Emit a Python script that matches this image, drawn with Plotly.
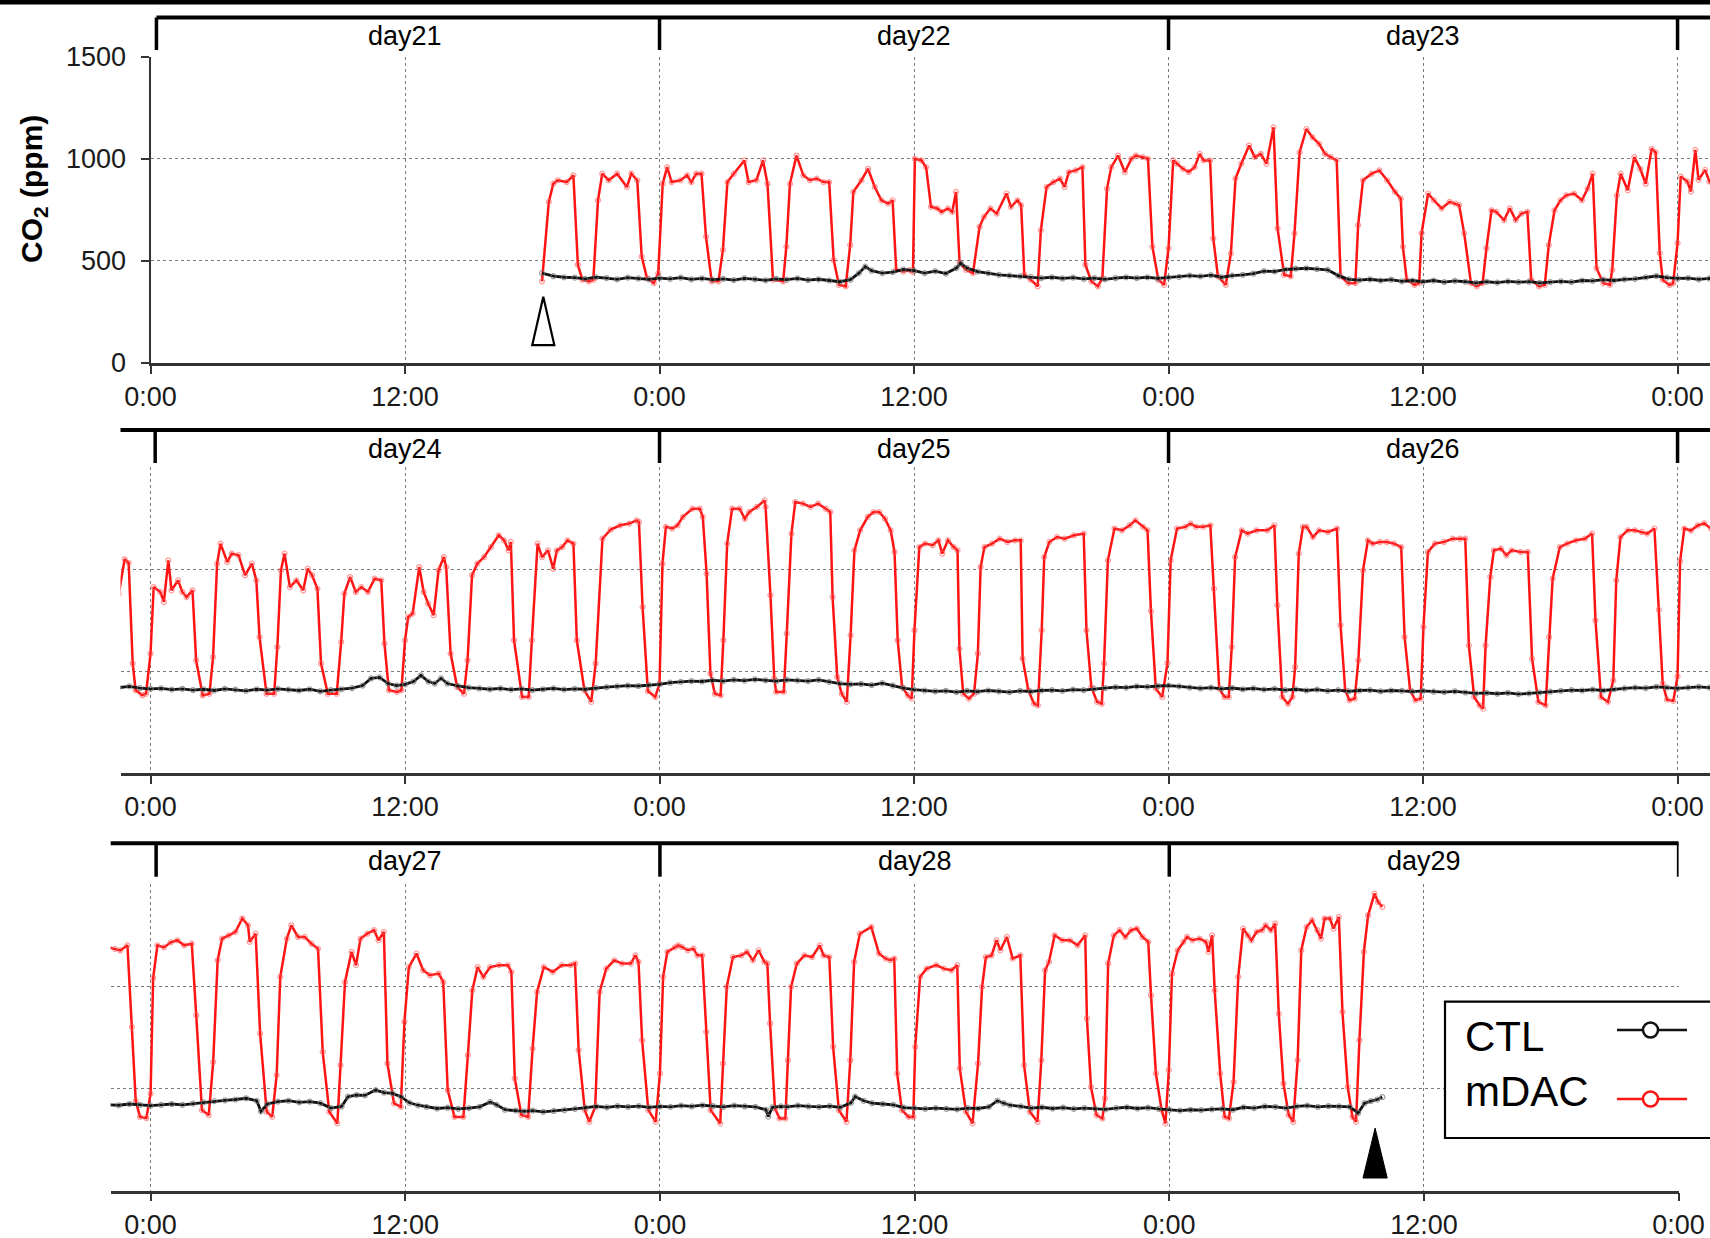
import plotly.graph_objects as go

W, H = 1710, 1238

# ---------------- data (hours counted from day21 0:00, CO2 in ppm) ----------------
mdac_hours = [
    18.46, 18.78, 18.99, 19.2, 19.62, 19.94, 20.15, 20.36, 20.67, 20.88, 21.1, 21.3, 21.6, 22.0, 22.46, 22.67,
    22.95, 23.16, 23.41, 23.73, 23.94, 24.15, 24.36, 24.57, 24.99, 25.3, 25.5, 25.73, 25.98, 26.19, 26.46, 26.78,
    26.99, 27.2, 27.5, 28.0, 28.2, 28.57, 28.88, 29.09, 29.35, 29.83, 29.98, 30.15, 30.46, 30.78, 31.09, 31.41,
    31.73, 32.0, 32.21, 32.46, 32.78, 32.99, 33.14, 33.52, 33.83, 34.15, 34.46, 34.78, 34.99, 35.16, 35.5, 35.8,
    35.95, 36.04, 36.35, 36.57, 36.8, 37.1, 37.3, 37.6, 37.8, 37.98, 38.15, 38.46, 38.78, 39.09, 39.3, 39.6,
    39.9, 40.36, 40.57, 40.88, 41.05, 41.2, 41.5, 41.83, 41.98, 42.25, 42.57, 42.88, 43.1, 43.3, 43.62, 43.94,
    44.08, 44.36, 44.67, 44.88, 45.1, 45.3, 45.62, 45.94, 46.25, 46.46, 46.78, 47.03, 47.24, 47.52, 47.79, 48.0,
    48.22, 48.4, 48.68, 48.95, 49.23, 49.47, 49.65, 49.96, 50.11, 50.33, 50.7, 50.94, 51.16, 51.43, 51.8, 52.07,
    52.35, 52.62, 52.95, 53.14, 53.45, 53.76, 53.94, 54.18, 54.5, 54.79, 55.1, 55.38, 55.65, 55.93, 56.11, 56.48,
    56.81, 56.94, 57.17, 57.58, 57.94, 58.31, 58.68, 58.95, 59.05, 59.23, 59.6, 59.82, 59.93, 60.24, 60.51, 60.88,
    61.25, 61.52, 61.7, 61.94, 62.26, 62.53, 62.81, 62.99, 63.23, 63.45, 63.82, 64.09, 64.37, 64.64, 64.92, 65.1,
    65.47, 65.74, 65.93, 66.2, 66.48, 66.75, 67.12, 67.49, 67.76, 68.0, 68.18, 68.5, 68.81, 68.92, 69.14, 69.32,
    69.65, 69.96, 70.24, 70.5, 70.78, 70.97, 71.16, 71.3, 71.62, 71.79, 72.0, 72.15, 72.46, 72.63, 72.84, 72.99,
    73.3, 73.5, 73.7, 73.98, 74.15, 74.46, 74.78, 74.95, 75.14, 75.3, 75.62, 75.83, 76.15, 76.46, 76.78, 76.99,
    77.14, 77.47, 77.83, 77.98, 78.15, 78.32, 78.57, 78.88, 79.2, 79.41, 79.62, 79.87, 80.04, 80.36, 80.78, 80.99,
    81.14, 81.41, 81.68, 81.94, 82.25, 82.57, 82.88, 83.03, 83.24, 83.62, 83.83, 84.0, 84.15, 84.36, 84.67, 84.88,
    85.09, 85.35, 85.58, 85.83, 85.94, 86.15, 86.46, 86.78, 86.95, 87.16, 87.41, 87.73, 88.05, 88.42, 88.67, 88.88,
    88.99, 89.14, 89.52, 89.83, 89.98, 90.25, 90.46, 90.74, 90.99, 91.16, 91.41, 91.66, 91.94, 92.1, 92.46, 92.78,
    92.99, 93.31, 93.7, 94.15, 94.57, 94.92, 95.03, 95.2, 95.45, 95.8, 96.0, 96.14, 96.3, 96.6, 96.85, 97.1,
    97.55, 97.9, 98.04, 98.22, 98.4, 98.61, 98.88, 99.01, 99.19, 99.42, 99.78, 100.02, 100.23, 100.59, 100.95, 101.0,
    101.23, 101.41, 101.5, 101.86, 102.0, 102.22, 102.4, 102.76, 103.12, 103.48, 103.84, 104.05, 104.16, 104.38, 104.59, 104.83,
    105.01, 105.19, 105.46, 105.82, 106.09, 106.36, 106.63, 106.9, 107.08, 107.23, 107.44, 107.71, 107.89, 108.02, 108.25, 108.52,
    108.88, 109.15, 109.33, 109.6, 109.87, 110.05, 110.14, 110.32, 110.59, 110.83, 111.01, 111.14, 111.32, 111.68, 112.04, 112.4,
    112.76, 113.03, 113.12, 113.39, 113.66, 113.84, 114.02, 114.14, 114.38, 114.74, 115.1, 115.55, 116.0, 116.13, 116.36, 116.63,
    116.85, 116.96, 117.14, 117.45, 117.81, 118.17, 118.44, 118.8, 119.01, 119.17, 119.4, 119.7, 119.95, 120.1, 120.4, 120.79,
    121.04, 121.3, 121.63, 121.97, 122.14, 122.39, 122.64, 122.84, 122.98, 123.14, 123.45, 123.73, 124.15, 124.66, 124.99, 125.13,
    125.36, 125.63, 125.84, 125.97, 126.14, 126.34, 126.51, 126.81, 127.1, 127.52, 127.94, 128.11, 128.33, 128.53, 128.78, 128.95,
    129.17, 129.4, 129.62, 129.96, 130.29, 130.63, 130.97, 131.13, 131.39, 131.64, 131.89, 132.02, 132.23, 132.56, 132.98, 133.4,
    133.74, 133.99, 134.16, 134.41, 134.67, 134.83, 134.95, 135.17, 135.34, 135.67, 135.93, 136.18, 136.6, 136.94, 137.14, 137.44,
    137.78, 137.94, 138.11, 138.45, 138.79, 139.21, 139.63, 139.97, 140.13, 140.39, 140.72, 140.97, 141.11, 141.31, 141.65, 141.98,
    142.32, 142.57, 142.91, 143.12, 143.3, 143.5, 143.8, 144.0, 144.12, 144.32, 144.63, 144.95, 145.26, 145.58, 145.94, 146.15,
    146.42, 146.74, 146.95, 147.16, 147.37, 147.68, 148.0, 148.32, 148.59, 148.67, 148.95, 149.16, 149.47, 149.73, 149.94, 150.11,
    150.42, 150.63, 150.95, 151.26, 151.58, 151.89, 152.11, 152.42, 152.8, 152.95, 153.16, 153.47, 153.68, 153.89, 154.21, 154.53,
    154.74, 154.99, 155.16, 155.47, 155.79, 155.96, 156.17, 156.53, 156.84, 157.16, 157.58, 157.79, 158.0, 158.32, 158.74, 158.95,
    159.16, 159.41, 159.68, 160.0, 160.42, 160.84, 161.0, 161.16, 161.47, 161.79, 162.0, 162.21, 162.53, 162.95, 163.37, 163.79,
    164.0, 164.17, 164.46, 164.67, 164.95, 165.16, 165.47, 165.85, 166.21, 166.63, 166.84, 166.99, 167.16, 167.45, 167.8, 168.0,
    168.15, 168.35, 168.7, 168.86, 169.04, 169.31, 169.58, 169.76, 169.99, 170.18, 170.39, 170.84, 170.97, 171.15, 171.44, 171.84,
    172.1, 172.38, 172.65, 172.92, 173.06, 173.19, 173.42, 173.64, 173.91, 174.03, 174.18, 174.45, 174.81, 175.17, 175.53, 175.71,
    175.98, 176.16, 176.43, 176.79, 176.97, 177.15, 177.42, 177.96, 178.32, 178.64, 178.86, 179.04, 179.18, 179.4, 179.72, 179.94,
    180.03, 180.26, 180.57, 181.02, 181.38, 181.74, 182.01, 182.13, 182.42, 182.73, 182.99, 183.18, 183.36, 183.63, 183.86, 184.04,
    184.35, 184.62, 184.98, 185.16, 185.43, 185.79, 185.97, 186.15, 186.33, 186.6, 186.96, 187.32, 187.68, 188.04, 188.12, 188.31,
    188.57, 188.85, 188.97, 189.12, 189.39, 189.66, 189.93, 190.2, 190.47, 190.74, 191.01, 191.14, 191.37, 191.64, 191.82, 191.98,
    192.13, 192.4, 192.67, 192.84, 193.09, 193.43, 193.73, 193.85, 194.02, 194.14, 194.4, 194.61, 194.81, 195.03, 195.25, 195.48,
    195.7, 195.87, 196.12, 196.37, 196.54, 196.79, 196.99, 197.16, 197.38, 197.63, 197.84, 198.05, 198.22, 198.47, 198.73, 198.98,
    199.15, 199.32, 199.57, 199.74, 199.99, 200.16, 200.41, 200.63, 200.8, 200.96, 201.17, 201.37, 201.67, 201.84, 202.04,
]
mdac_ppm = [
    400, 789, 878, 895, 886, 919, 481, 408, 400, 408, 797, 927, 895, 927, 862, 927,
    895, 521, 416, 391, 440, 878, 959, 886, 895, 919, 886, 927, 927, 619, 400, 400,
    554, 886, 927, 992, 886, 895, 992, 878, 408, 400, 570, 878, 1016, 919, 895, 903,
    886, 886, 505, 383, 375, 578, 838, 895, 951, 862, 797, 781, 797, 456, 448, 455,
    445, 1000, 992, 959, 765, 757, 740, 757, 740, 838, 489, 456, 440, 667, 716, 757,
    732, 830, 765, 797, 773, 432, 408, 375, 651, 862, 886, 903, 862, 935, 943, 959,
    481, 400, 375, 416, 854, 959, 1016, 935, 1000, 1016, 1008, 1000, 570, 408, 383, 562,
    992, 976, 951, 935, 959, 1024, 992, 992, 610, 424, 383, 537, 903, 976, 1065, 1008,
    1024, 976, 1154, 659, 432, 424, 635, 1032, 1146, 1105, 1073, 1024, 1008, 992, 424, 391,
    391, 675, 895, 927, 943, 895, 838, 805, 570, 408, 383, 391, 635, 830, 797, 757,
    789, 781, 773, 635, 391, 375, 391, 562, 748, 740, 700, 757, 700, 732, 740, 408,
    375, 383, 578, 748, 797, 821, 830, 797, 854, 927, 464, 391, 383, 456, 821, 927,
    846, 1008, 951, 878, 1049, 1032, 538, 407, 382, 390, 587, 913, 889, 840, 1044, 897,
    946, 889, 864, 897, 554, 382, 390, 570, 1028, 1126, 1036, 1077, 1069, 971, 1028, 946,
    668, 390, 390, 619, 995, 1077, 913, 946, 897, 1003, 971, 905, 538, 390, 390, 644,
    881, 962, 889, 913, 889, 954, 946, 636, 407, 399, 407, 652, 766, 783, 1011, 889,
    832, 775, 995, 1060, 1011, 587, 423, 390, 554, 971, 1028, 1060, 1109, 1167, 1142, 1093,
    1134, 652, 374, 374, 652, 1126, 1060, 1093, 1003, 1093, 1109, 1142, 1126, 652, 407, 350,
    538, 1150, 1195, 1216, 1224, 1240, 1232, 815, 403, 374, 440, 1028, 1208, 1200, 1216, 1257,
    1297, 1297, 1257, 979, 489, 390, 382, 652, 1126, 1297, 1297, 1248, 1281, 1306, 1338, 1306,
    873, 464, 399, 399, 685, 1175, 1330, 1322, 1306, 1322, 1297, 1281, 864, 472, 390, 350,
    677, 1093, 1191, 1257, 1281, 1281, 1248, 1191, 1085, 652, 423, 382, 366, 701, 1109, 1126,
    1118, 1142, 1077, 1142, 1109, 1093, 611, 390, 366, 390, 587, 1011, 1109, 1126, 1150, 1134,
    1142, 1142, 562, 407, 341, 333, 701, 1060, 1134, 1158, 1150, 1167, 1175, 701, 423, 350,
    341, 538, 1044, 1200, 1191, 1216, 1240, 1208, 1191, 795, 415, 374, 540, 1044, 1200, 1208,
    1224, 1208, 1208, 1216, 905, 415, 374, 374, 619, 1060, 1191, 1175, 1191, 1191, 1216, 824,
    374, 341, 374, 521, 1077, 1208, 1208, 1158, 1191, 1183, 1200, 726, 407, 358, 366, 554,
    995, 1142, 1126, 1134, 1134, 1126, 1109, 668, 407, 358, 366, 717, 1085, 1126, 1134, 1150,
    1150, 1150, 627, 374, 333, 317, 627, 962, 1093, 1101, 1069, 1093, 1085, 1085, 562, 350,
    333, 668, 954, 1109, 1126, 1142, 1150, 1175, 750, 374, 350, 456, 946, 1158, 1191, 1191,
    1183, 1175, 1200, 801, 440, 361, 355, 475, 1040, 1200, 1190, 1215, 1225, 1200, 1208, 858,
    394, 370, 630, 1127, 1233, 1249, 1266, 1331, 1298, 1217, 1257, 769, 386, 361, 565, 1046,
    1233, 1298, 1241, 1241, 1208, 1184, 679, 386, 329, 614, 1021, 1168, 1103, 1233, 1257, 1274,
    1225, 1266, 622, 427, 410, 826, 1094, 1160, 1078, 1054, 1062, 1021, 492, 361, 361, 663,
    980, 1094, 1046, 1094, 1103, 1103, 1070, 549, 370, 361, 695, 972, 1094, 1070, 1103, 1103,
    1111, 687, 394, 337, 410, 972, 1086, 1127, 1111, 1111, 1151, 1119, 736, 395, 337, 573,
    1046, 1168, 1190, 1200, 1192, 1176, 1184, 1151, 1151, 777, 394, 329, 622, 997, 1143, 1151,
    1168, 1127, 1176, 1119, 1111, 818, 402, 353, 353, 638, 997, 1111, 1151, 1143, 1200, 1151,
    1143, 704, 394, 337, 638, 1119, 1257, 1290, 1160, 1135, 1127, 1135, 573, 394, 361, 361,
    704, 1046, 1086, 1103, 1086, 1078, 1103, 598, 386, 329, 622, 997, 1143, 1151, 1225, 1176,
    1241, 1135, 1151, 614, 386, 337, 638, 1078, 1119, 1249, 1225, 1225, 1200, 1249, 842, 508,
    370, 353, 451, 1111, 1249, 1274, 1241, 1274, 1282, 1241, 1217, 956, 573, 394, 329, 590,
    1062, 1176, 1217, 1241, 1225, 1233, 1217, 1168, 1249, 980, 573, 361, 353, 532, 1046, 1282,
    1249, 1225, 1266, 1274, 1298, 1274, 1306, 866, 524, 370, 337, 638, 1176, 1290, 1323, 1274,
    1233, 1331, 1331, 1282, 1339, 875, 508, 361, 337, 736, 1168, 1347, 1453, 1412, 1388,
]

ctl_hours = [
    18.46, 19.0, 19.5, 20.0, 20.5, 21.0, 21.5, 22.0, 22.5, 23.0, 23.5, 24.0, 24.5, 25.0, 25.5, 26.0,
    26.5, 27.0, 27.5, 28.0, 28.5, 29.0, 29.5, 30.0, 30.5, 31.0, 31.5, 32.0, 32.5, 33.0, 33.4, 33.7,
    34.0, 34.5, 35.0, 35.5, 36.0, 36.5, 37.0, 37.5, 38.0, 38.2, 38.5, 39.0, 39.5, 40.0, 40.5, 41.0,
    41.5, 42.0, 42.5, 43.0, 43.5, 44.0, 44.5, 45.0, 45.5, 46.0, 46.5, 47.0, 47.5, 48.0, 48.5, 49.0,
    49.5, 50.0, 50.5, 51.0, 51.5, 52.0, 52.5, 53.0, 53.5, 54.0, 54.5, 55.0, 55.5, 56.0, 56.5, 57.0,
    57.5, 58.0, 58.5, 59.0, 59.5, 60.0, 60.5, 61.0, 61.5, 62.0, 62.5, 63.0, 63.5, 64.0, 64.5, 65.0,
    65.5, 66.0, 66.5, 67.0, 67.5, 68.0, 68.5, 69.0, 69.5, 70.0, 70.5, 71.0, 71.5, 72.0, 72.5, 73.0,
    73.5, 74.0, 74.5, 75.0, 75.5, 76.0, 76.5, 77.0, 77.5, 78.0, 78.5, 79.0, 79.5, 80.0, 80.5, 81.0,
    81.5, 82.0, 82.4, 82.8, 83.2, 83.6, 84.0, 84.4, 84.75, 85.1, 85.4, 85.7, 86.0, 86.5, 87.0, 87.5,
    88.0, 88.5, 89.0, 89.5, 90.0, 90.5, 91.0, 91.5, 92.0, 92.5, 93.0, 93.5, 94.0, 94.5, 95.0, 95.5,
    96.0, 96.5, 97.0, 97.5, 98.0, 98.5, 99.0, 99.5, 100.0, 100.5, 101.0, 101.5, 102.0, 102.5, 103.0, 103.5,
    104.0, 104.5, 105.0, 105.5, 106.0, 106.5, 107.0, 107.5, 108.0, 108.5, 109.0, 109.5, 110.0, 110.5, 111.0, 111.5,
    112.0, 112.5, 113.0, 113.5, 114.0, 114.5, 115.0, 115.5, 116.0, 116.5, 117.0, 117.5, 118.0, 118.5, 119.0, 119.5,
    120.0, 120.5, 121.0, 121.5, 122.0, 122.5, 123.0, 123.5, 124.0, 124.5, 125.0, 125.5, 126.0, 126.5, 127.0, 127.5,
    128.0, 128.5, 129.0, 129.5, 130.0, 130.5, 131.0, 131.5, 132.0, 132.5, 133.0, 133.5, 134.0, 134.5, 135.0, 135.5,
    136.0, 136.5, 137.0, 137.5, 138.0, 138.5, 139.0, 139.5, 140.0, 140.5, 141.0, 141.5, 142.0, 142.5, 143.0, 143.5,
    144.0, 144.5, 145.0, 145.5, 146.0, 146.5, 147.0, 147.5, 148.0, 148.5, 149.0, 149.2, 149.5, 150.0, 150.5, 151.0,
    151.5, 152.0, 152.5, 153.0, 153.3, 153.7, 154.1, 154.6, 155.0, 155.4, 155.8, 156.2, 156.6, 157.0, 157.5, 158.0,
    158.5, 159.0, 159.5, 160.0, 160.3, 160.7, 161.2, 161.6, 162.0, 162.5, 163.0, 163.5, 164.0, 164.5, 165.0, 165.5,
    166.0, 166.5, 167.0, 167.5, 168.0, 168.5, 169.0, 169.5, 170.0, 170.5, 171.0, 171.5, 172.0, 172.5, 173.0, 173.1,
    173.3, 173.7, 174.0, 174.5, 175.0, 175.5, 176.0, 176.5, 177.0, 177.2, 177.6, 178.0, 178.5, 179.0, 179.5, 180.0,
    180.5, 181.0, 181.5, 182.0, 182.5, 183.0, 183.5, 183.9, 184.2, 184.5, 185.0, 185.5, 186.0, 186.5, 187.0, 187.5,
    188.0, 188.5, 189.0, 189.5, 190.0, 190.5, 191.0, 191.5, 192.0, 192.5, 193.0, 193.5, 194.0, 194.5, 195.0, 195.5,
    196.0, 196.5, 197.0, 197.5, 198.0, 198.5, 199.0, 199.5, 200.0, 200.5, 200.9, 201.2, 201.5, 201.8, 202.04,
]
ctl_ppm = [
    440, 425, 420, 418, 412, 420, 416, 410, 418, 414, 410, 416, 412, 418, 410, 414,
    408, 412, 406, 414, 410, 405, 412, 408, 414, 406, 410, 404, 398, 408, 440, 472,
    452, 440, 445, 458, 452, 440, 450, 438, 465, 489, 465, 448, 440, 432, 428, 424,
    422, 416, 420, 414, 418, 412, 416, 410, 416, 420, 416, 420, 414, 418, 422, 428,
    424, 430, 420, 428, 432, 438, 450, 448, 458, 462, 464, 460, 456, 428, 410, 406,
    410, 404, 408, 400, 404, 398, 404, 396, 402, 398, 392, 398, 394, 400, 396, 398,
    392, 396, 400, 396, 404, 402, 408, 404, 410, 412, 420, 426, 418, 414, 416, 410,
    414, 408, 412, 406, 414, 410, 404, 412, 408, 414, 410, 406, 412, 402, 408, 412,
    418, 430, 465, 470, 440, 430, 436, 450, 480, 450, 440, 466, 440, 428, 420, 416,
    412, 416, 410, 414, 408, 412, 416, 410, 414, 412, 418, 422, 426, 430, 428, 432,
    436, 444, 448, 452, 450, 456, 452, 458, 454, 460, 456, 452, 458, 454, 452, 458,
    448, 440, 436, 438, 432, 442, 430, 418, 410, 406, 402, 404, 398, 404, 400, 406,
    402, 398, 404, 400, 406, 408, 404, 410, 408, 414, 418, 422, 420, 426, 424, 428,
    430, 426, 420, 416, 420, 414, 418, 412, 416, 410, 414, 408, 412, 406, 410, 404,
    408, 402, 406, 408, 402, 406, 404, 400, 404, 400, 398, 402, 396, 392, 394, 390,
    394, 388, 392, 396, 400, 404, 408, 406, 410, 406, 412, 416, 420, 418, 424, 420,
    416, 420, 424, 420, 426, 432, 438, 442, 446, 452, 440, 388, 424, 436, 440, 432,
    436, 428, 404, 412, 460, 468, 466, 492, 480, 476, 460, 430, 418, 410, 402, 406,
    400, 404, 410, 434, 420, 396, 392, 388, 392, 386, 390, 394, 400, 406, 412, 408,
    414, 410, 414, 408, 412, 410, 416, 412, 418, 414, 410, 416, 412, 410, 396, 362,
    408, 412, 410, 416, 412, 410, 414, 408, 430, 460, 440, 428, 424, 420, 406, 404,
    400, 404, 400, 398, 404, 402, 410, 440, 428, 418, 412, 404, 408, 402, 406, 400,
    404, 402, 398, 404, 408, 402, 406, 400, 396, 392, 396, 394, 398, 400, 396, 408,
    404, 412, 410, 404, 412, 416, 410, 414, 412, 410, 380, 428, 438, 446, 458,
]

series_names = ["CTL", "mDAC"]
series_colors = ["#111111", "#ff1414"]
day_labels = ["day21", "day22", "day23", "day24", "day25", "day26", "day27", "day28", "day29"]
tick_names = ["0:00", "12:00"]
y_tick_values = [0, 500, 1000, 1500]
y_tick_labels = ["0", "500", "1000", "1500"]
start_arrow_hour = 18.52   # open arrowhead (start of mDAC)
end_arrow_hour = 201.7     # filled arrowhead (end)

# ---------------- layout helpers ----------------
def fx(px):
    return px / W

def fy(py):
    return 1 - py / H

FONT = "Liberation Sans, Arial, sans-serif"
GRID = "#7a7a7a"
AXC = "#333333"

panels = [
    dict(day0=0, xr=[0, 73.53], xdom=[150.5, 1710], ybot=363.0, ytop=56.7,
         brk_y=17.5, brk_bot=50, lab_y=35.5, brk_x0=156.5, brk_x1=1710, first_off=0.28, ylabels=True),
    dict(day0=72, xr=[70.585, 145.53], xdom=[120.5, 1710], ybot=773.3, ytop=467.3,
         brk_y=430, brk_bot=463, lab_y=449, brk_x0=120.5, brk_x1=1710, first_off=0.22, ylabels=False),
    dict(day0=144, xr=[142.12, 216.0], xdom=[110.7, 1678.6], ybot=1190.7, ytop=884.0,
         brk_y=843.3, brk_bot=876.7, lab_y=861, brk_x0=110.7, brk_x1=1678.6, first_off=0.26, ylabels=False),
]

fig = go.Figure()
layout = dict(
    template="none",
    width=W, height=H, margin=dict(l=0, r=0, t=0, b=0, pad=0), autosize=False,
    paper_bgcolor="white", plot_bgcolor="white", showlegend=False,
    font=dict(family=FONT, color="#1a1a1a"),
)
shapes = []
annotations = []

for i, p in enumerate(panels):
    sfx = "" if i == 0 else str(i + 1)
    xref, yref = "x" + sfx, "y" + sfx
    d0 = p["day0"]
    tickvals = [d0 + 12 * k for k in range(7)]
    ticktext = [tick_names[k % 2] for k in range(7)]
    layout["xaxis" + sfx] = dict(
        domain=[fx(p["xdom"][0]), min(1.0, fx(p["xdom"][1]))], range=p["xr"], anchor=yref,
        automargin=False,
        tickvals=tickvals, ticktext=ticktext, showgrid=True, gridcolor=GRID, gridwidth=1,
        griddash="dot", showline=True, linecolor=AXC, linewidth=2.5, ticks="outside",
        ticklen=8, tickwidth=2, tickcolor=AXC, ticklabelstandoff=0,
        tickfont=dict(family=FONT, size=27, color="#1a1a1a"), zeroline=False,
    )
    layout["yaxis" + sfx] = dict(
        domain=[fy(p["ybot"]), fy(p["ytop"])], range=[0, 1500], anchor=xref,
        automargin=False,
        tickvals=y_tick_values, ticktext=y_tick_labels, showgrid=True, gridcolor=GRID,
        gridwidth=1, griddash="dot", zeroline=False,
        showline=p["ylabels"], linecolor=AXC, linewidth=2,
        ticks="outside" if p["ylabels"] else "", ticklen=8, tickwidth=2, tickcolor=AXC,
        showticklabels=p["ylabels"], ticklabelstandoff=9,
        tickfont=dict(family=FONT, size=27, color="#1a1a1a"),
    )

    # data traces (mDAC first, CTL drawn on top)
    fig.add_trace(go.Scatter(
        x=mdac_hours, y=mdac_ppm, xaxis=xref, yaxis=yref, mode="lines+markers",
        name=series_names[1], line=dict(color=series_colors[1], width=2.5),
        marker=dict(symbol="circle-open", size=5, color="rgba(255,90,90,0.6)", line=dict(width=1.2)),
    ))
    fig.add_trace(go.Scatter(
        x=ctl_hours, y=ctl_ppm, xaxis=xref, yaxis=yref, mode="lines+markers",
        name=series_names[0], line=dict(color=series_colors[0], width=2.8),
        marker=dict(symbol="circle-open", size=5, color="rgba(120,120,120,0.7)", line=dict(width=1.2)),
    ))

    # day brackets
    shapes.append(dict(type="line", xref="paper", yref="paper",
                       x0=fx(p["brk_x0"]), x1=fx(p["brk_x1"]) + (0.01 if p["brk_x1"] >= W else 0),
                       y0=fy(p["brk_y"]), y1=fy(p["brk_y"]), line=dict(color="black", width=4)))
    for k in range(4):
        hx = d0 + 24 * k + (p["first_off"] if k == 0 else 0)
        shapes.append(dict(type="line", xref=xref, yref="paper", x0=hx, x1=hx,
                           y0=fy(p["brk_y"]), y1=fy(p["brk_bot"]), line=dict(color="black", width=3.5)))
    for k in range(3):
        annotations.append(dict(xref=xref, yref="paper", x=d0 + 24 * k + 12, y=fy(p["lab_y"]),
                                text=day_labels[3 * i + k], showarrow=False, xanchor="center",
                                yanchor="middle", font=dict(family=FONT, size=27, color="black")))

# arrowheads (start: open, end: filled)
ax_half = 0.52
shapes.append(dict(type="path", xref="x", yref="y",
                   path=f"M {start_arrow_hour - ax_half},88 L {start_arrow_hour + ax_half},88 L {start_arrow_hour},325 Z",
                   line=dict(color="black", width=2.2), fillcolor="white"))
shapes.append(dict(type="path", xref="x3", yref="y3",
                   path=f"M {end_arrow_hour - 0.57},62 L {end_arrow_hour + 0.57},62 L {end_arrow_hour},306 Z",
                   line=dict(color="black", width=1), fillcolor="black"))

# top border
shapes.append(dict(type="rect", xref="paper", yref="paper", x0=0, x1=1, y0=fy(4.5), y1=1,
                   line=dict(width=0), fillcolor="black"))

# legend box (drawn manually)
shapes.append(dict(type="rect", xref="paper", yref="paper", x0=fx(1445), x1=fx(1730),
                   y0=fy(1138), y1=fy(1001.7), line=dict(color="black", width=2.2),
                   fillcolor="white", layer="above"))
leg_rows = [(1036.7, 1030.0), (1091.7, 1099.0)]
for j, (ty, ly) in enumerate(leg_rows):
    annotations.append(dict(xref="paper", yref="paper", x=fx(1463), y=fy(ty), text=series_names[j],
                            showarrow=False, xanchor="left", yanchor="middle",
                            font=dict(family=FONT, size=42, color="black")))
    shapes.append(dict(type="line", xref="paper", yref="paper", x0=fx(1617), x1=fx(1687),
                       y0=fy(ly), y1=fy(ly), line=dict(color=series_colors[j], width=2.7), layer="above"))
    shapes.append(dict(type="circle", xref="paper", yref="paper", x0=fx(1643), x1=fx(1658),
                       y0=fy(ly + 7.5), y1=fy(ly - 7.5), line=dict(color=series_colors[j], width=2.5),
                       fillcolor="white", layer="above"))

# y-axis title
annotations.append(dict(xref="paper", yref="paper", x=fx(33), y=fy(189),
                        text="<b>CO<sub>2</sub> (ppm)</b>", textangle=-90, showarrow=False,
                        xanchor="center", yanchor="middle",
                        font=dict(family=FONT, size=30, color="black")))

layout["shapes"] = shapes
layout["annotations"] = annotations
fig.update_layout(**layout)
fig.write_html(
    "out.html",
    config={"displayModeBar": False},
    post_script="document.body.style.margin='0';document.body.style.padding='0';document.body.style.overflow='hidden';",
)
